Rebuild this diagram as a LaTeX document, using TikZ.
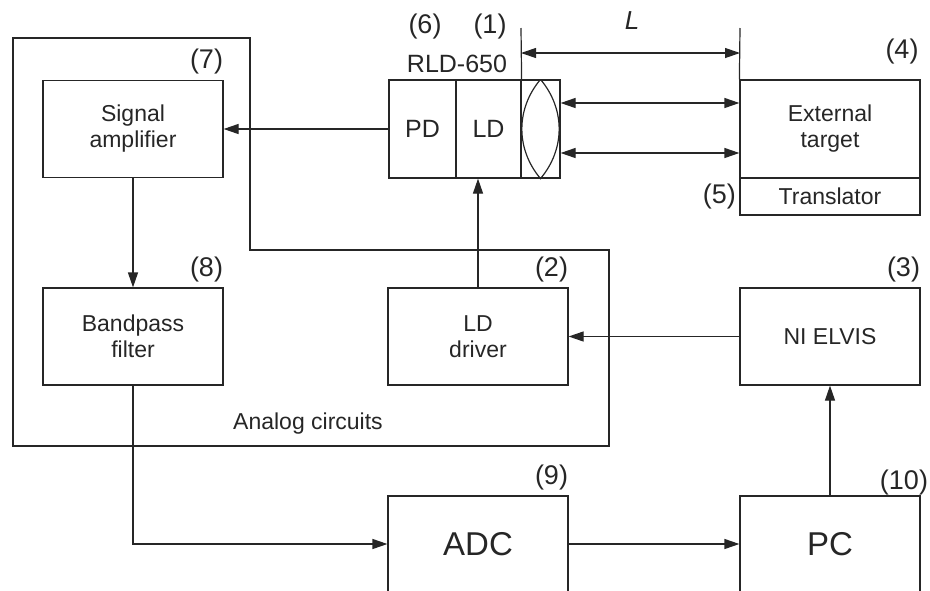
\documentclass[tikz,border=0pt]{standalone}
\usepackage{fontspec}
\setmainfont{Liberation Sans}
\usetikzlibrary{arrows.meta}
\tikzset{
  blk/.style={draw, minimum width=180pt, minimum height=97pt, inner sep=0pt,
    align=center, font=\fontsize{23}{26}\selectfont},
  part/.style={draw, minimum height=98pt, inner sep=0pt, font=\fontsize{25}{28}\selectfont},
  num/.style={inner xsep=0pt, inner ysep=5pt, font=\fontsize{27}{30}\selectfont},
  sig/.style={-{Triangle[length=15pt,width=10pt]}},
  dbl/.style={{Triangle[length=15pt,width=10pt]}-{Triangle[length=15pt,width=10pt]}},
}
\begin{document}
\begin{tikzpicture}[x=1pt,y=-1pt,line width=1.2pt,color=black!85]
  \useasboundingbox (0,0) rectangle (930,590);
  \clip (0,0) rectangle (930,590);

  % 模拟电路外框
  \draw (13,38) -- (250,38) -- (250,250) -- (609,250) -- (609,446) -- (13,446) -- cycle;
  \node[font=\fontsize{23}{26}\selectfont] (analog) at (308,424) {Analog circuits};

  % 放大器和滤波器
  \node[blk] (amp) at (133,129) {Signal\\amplifier};
  \node[num, above left] (n7) at (amp.north east) {(7)};
  \node[blk] (bpf) at (133,336.5) {Bandpass\\filter};
  \node[num, above left] (n8) at (bpf.north east) {(8)};

  % RLD-650 模块
  \node[part, minimum width=67pt] (pd) at (422.5,129) {PD};
  \node[part, minimum width=65pt] (ld) at (488.5,129) {LD};
  \node[part, minimum width=39pt] (lens) at (540.5,129) {};
  \draw (lens.north) to[bend right=40] (lens.south) to[bend right=40] (lens.north);
  \node[font=\fontsize{25}{28}\selectfont] (rld) at (457,64) {RLD-650};
  \node[num] (n6) at (425,27) {(6)};
  \node[num] (n1) at (490,27) {(1)};

  % 外部目标与平移台
  \node[blk, minimum height=98pt] (tgt) at (830,129) {External\\target};
  \node[blk, minimum height=37pt] (trans) at (830,196.5) {Translator};
  \node[num, anchor=east, inner xsep=3pt] (n5) at (trans.west) {(5)};
  \node[num] (n4) at (902,52) {(4)};

  % 距离 L
  \coordinate (lt) at (521,28);
  \coordinate (rt) at (740,28);
  \draw (ld.north east) -- (lt);
  \draw (tgt.north west) -- (rt);
  \draw[dbl] (lt |- 0,53) -- (rt |- 0,53);
  \node[font=\itshape\fontsize{26}{28}\selectfont] (L) at (632,21) {L};
  \draw[dbl] (lens.east |- 0,103) -- (tgt.west |- 0,103);
  \draw[dbl] (lens.east |- 0,153) -- (tgt.west |- 0,153);

  % 驱动与 NI ELVIS
  \node[blk] (drv) at (478,336.5) {LD\\driver};
  \node[num, above left] (n2) at (drv.north east) {(2)};
  \node[blk] (elvis) at (830,336.5) {NI ELVIS};
  \node[num, above left] (n3) at (elvis.north east) {(3)};

  % ADC 与 PC（下边超出画面）
  \node[blk, minimum height=96pt, font=\fontsize{33}{36}\selectfont] (adc) at (478,544) {ADC};
  \node[num, above left] (n9) at (adc.north east) {(9)};
  \node[blk, minimum height=96pt, font=\fontsize{33}{36}\selectfont] (pc) at (830,544) {PC};
  \node[num, above left, xshift=8pt, yshift=-5pt] (n10) at (pc.north east) {(10)};

  % 信号连线
  \draw[sig] (pd.west) -- (amp.east);
  \draw[sig] (amp.south) -- (bpf.north);
  \draw[sig] (drv.north) -- (drv.north |- ld.south);
  \draw[sig] (elvis.west) -- (drv.east);
  \draw[sig] (bpf.south) -- (bpf.south |- adc.west) -- (adc.west);
  \draw[sig] (adc.east) -- (pc.west);
  \draw[sig] (pc.north) -- (elvis.south);
\end{tikzpicture}
\end{document}
